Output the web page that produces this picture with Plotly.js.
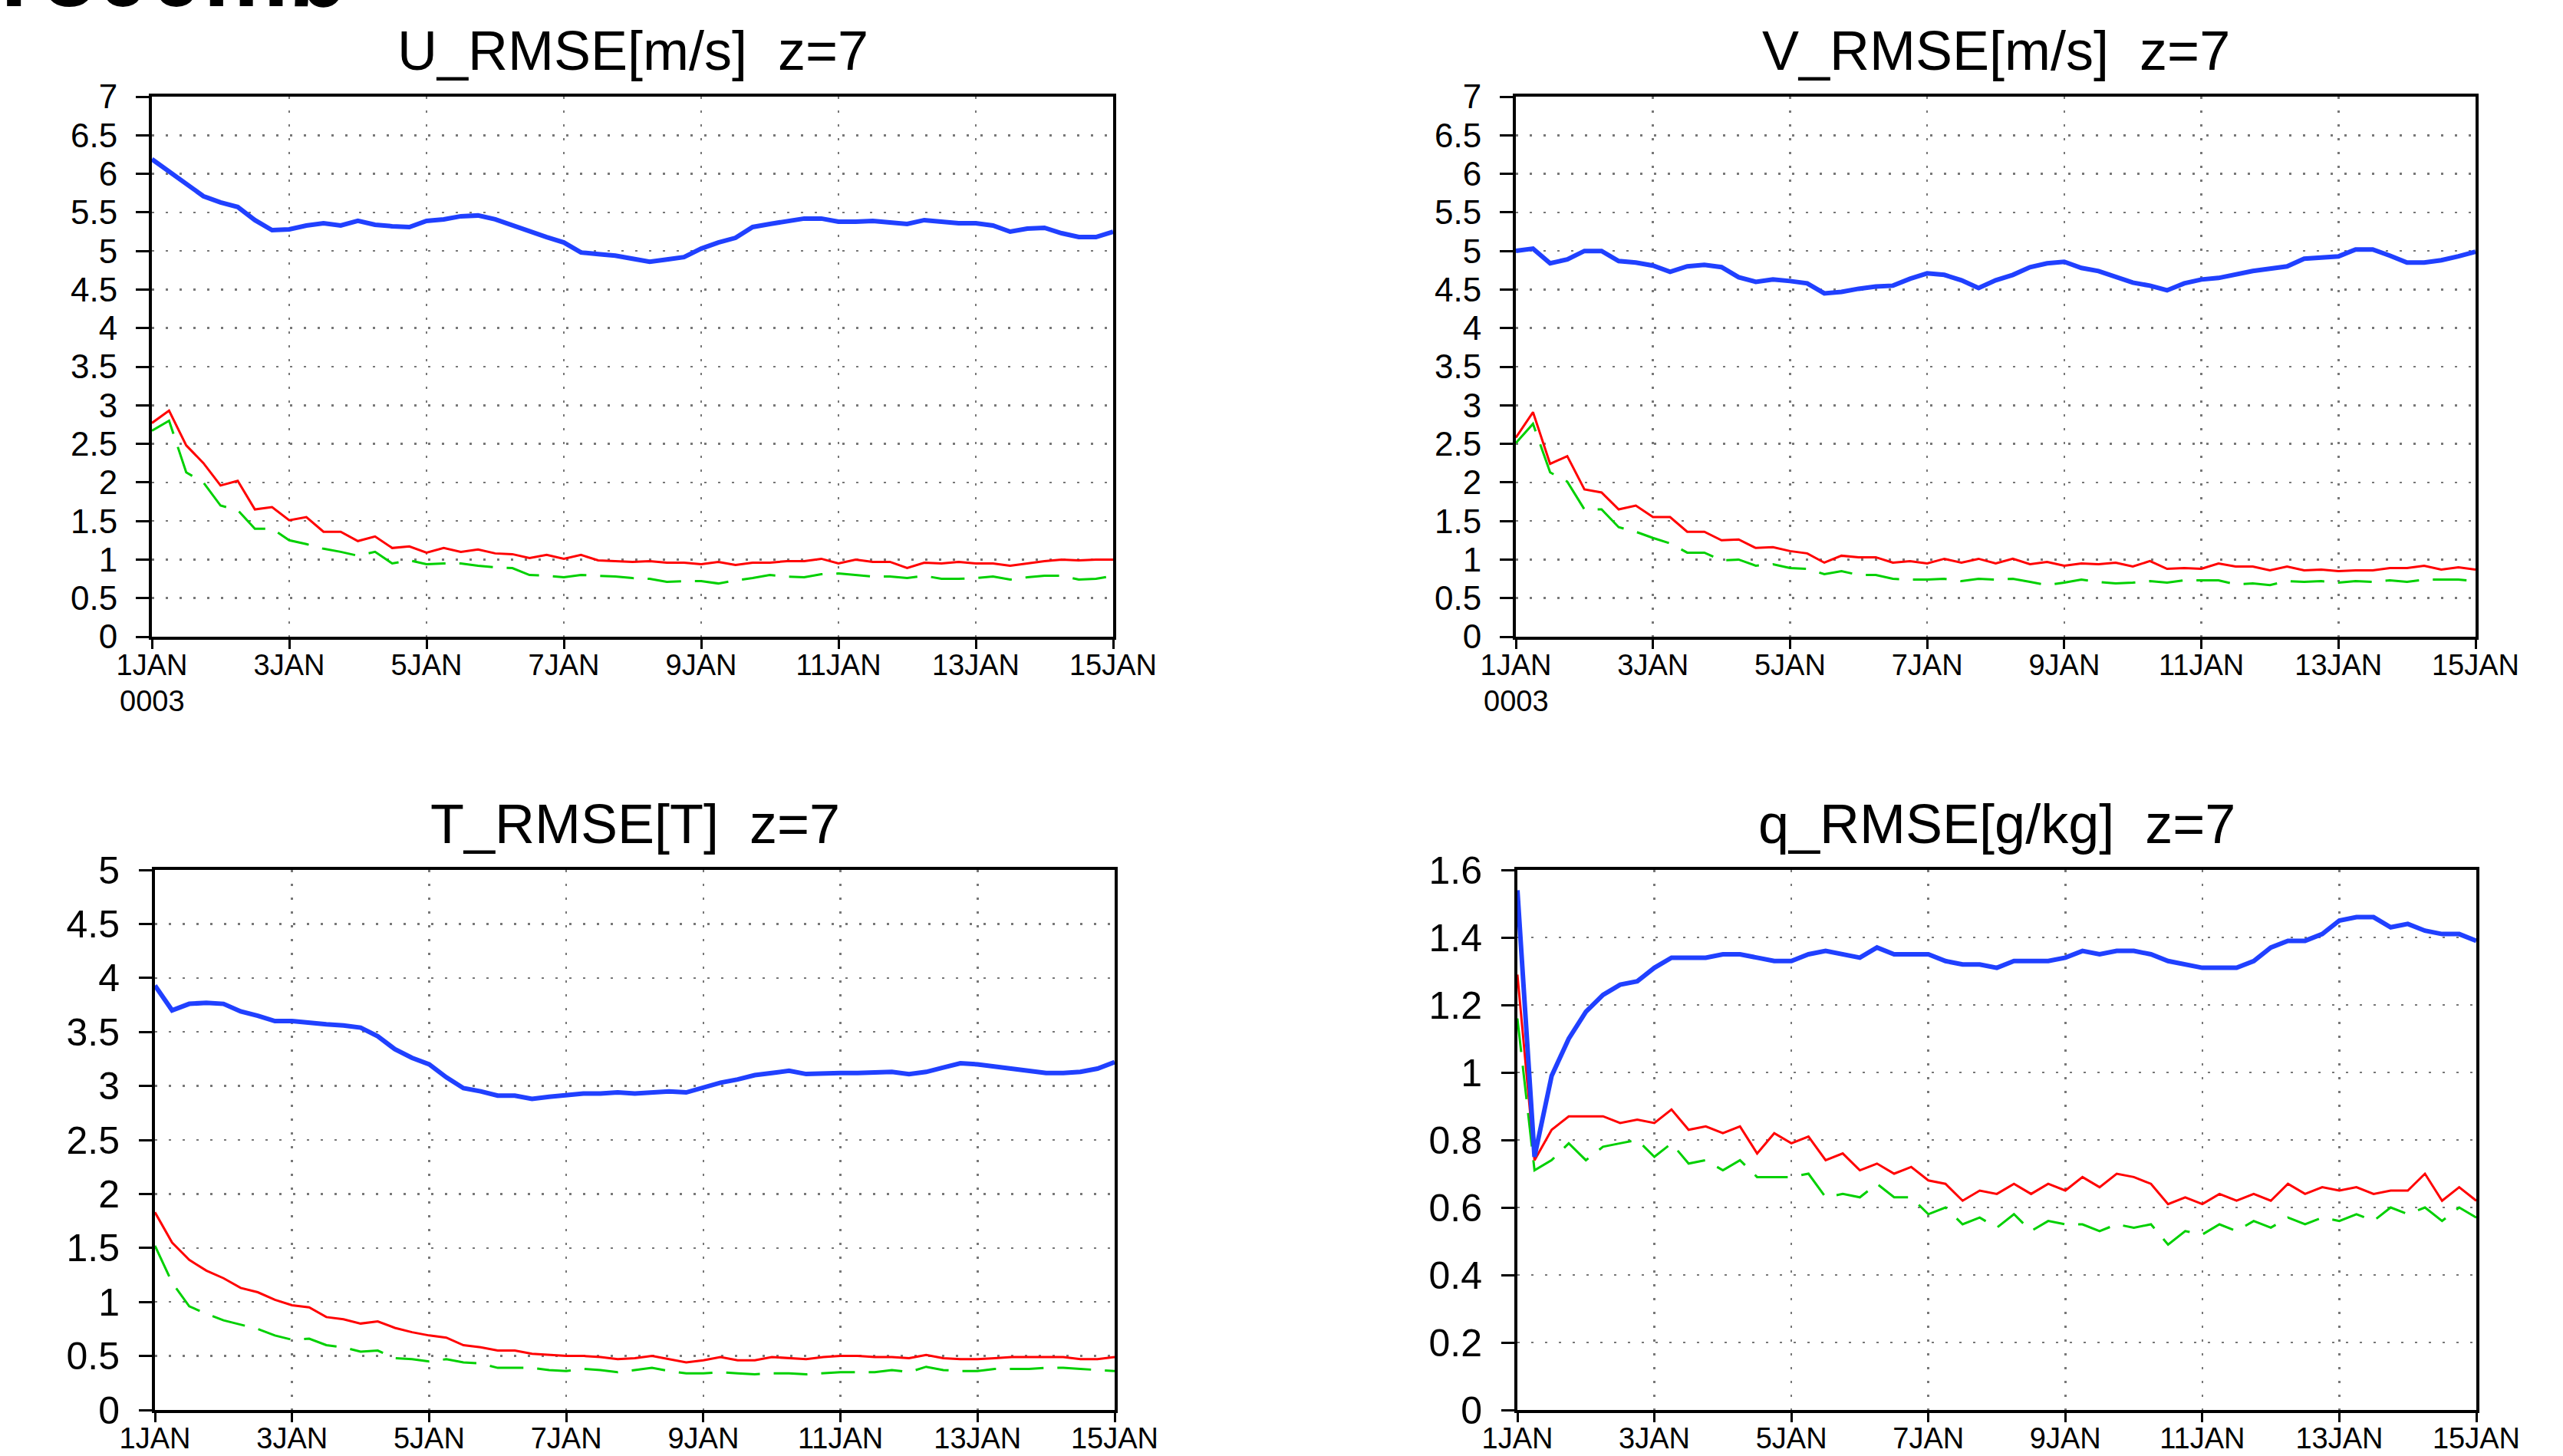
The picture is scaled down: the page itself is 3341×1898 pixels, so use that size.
<!DOCTYPE html>
<html>
<head>
<meta charset="utf-8">
<script src="https://cdn.plot.ly/plotly-3.0.1.min.js"></script>
<style>html,body{margin:0;padding:0;background:#fff;}#chart{width:3341px;height:1898px;}</style>
</head>
<body>
<div id="chart"></div>
<script>
// ---- data (6-hourly, 1JAN 00Z .. 15JAN 00Z, 57 values) ----
const U_blue = [6.19,6.03,5.87,5.71,5.63,5.57,5.40,5.27,5.28,5.33,5.36,5.33,5.39,5.34,5.32,5.31,5.39,5.41,5.45,5.46,5.41,5.33,5.26,5.18,5.11,4.98,4.96,4.94,4.90,4.86,4.89,4.92,5.03,5.11,5.17,5.31,5.35,5.38,5.42,5.42,5.38,5.38,5.39,5.37,5.35,5.40,5.38,5.36,5.36,5.33,5.25,5.29,5.30,5.23,5.18,5.18,5.25];
const U_red = [2.77,2.93,2.48,2.25,1.96,2.02,1.65,1.68,1.51,1.55,1.36,1.36,1.24,1.30,1.15,1.17,1.09,1.15,1.10,1.13,1.08,1.07,1.02,1.06,1.01,1.06,0.99,0.98,0.97,0.98,0.96,0.96,0.94,0.97,0.93,0.96,0.96,0.98,0.98,1.01,0.95,1.00,0.97,0.97,0.89,0.96,0.95,0.97,0.95,0.95,0.92,0.95,0.98,1.00,0.99,1.00,1.00];
const U_green = [2.67,2.80,2.13,2.00,1.70,1.64,1.40,1.40,1.25,1.20,1.14,1.10,1.05,1.10,0.95,0.99,0.94,0.95,0.95,0.92,0.90,0.89,0.80,0.79,0.77,0.80,0.79,0.78,0.76,0.75,0.71,0.72,0.72,0.69,0.73,0.76,0.80,0.78,0.77,0.81,0.82,0.80,0.78,0.78,0.76,0.79,0.75,0.75,0.76,0.78,0.74,0.77,0.79,0.79,0.74,0.75,0.79];

const V_blue = [5.00,5.03,4.84,4.89,5.00,5.00,4.87,4.85,4.81,4.73,4.80,4.82,4.79,4.66,4.60,4.63,4.61,4.58,4.45,4.47,4.51,4.54,4.55,4.64,4.71,4.69,4.62,4.52,4.62,4.69,4.79,4.84,4.86,4.78,4.74,4.66,4.59,4.55,4.49,4.58,4.63,4.65,4.70,4.74,4.77,4.80,4.90,4.92,4.93,5.02,5.02,4.94,4.85,4.85,4.88,4.93,4.99];
const V_red = [2.58,2.91,2.24,2.34,1.91,1.87,1.65,1.70,1.55,1.55,1.36,1.36,1.25,1.26,1.15,1.16,1.11,1.08,0.96,1.05,1.03,1.03,0.96,0.98,0.95,1.01,0.96,1.01,0.95,1.01,0.94,0.97,0.92,0.95,0.94,0.96,0.91,0.98,0.88,0.89,0.88,0.95,0.91,0.91,0.86,0.91,0.86,0.87,0.85,0.86,0.86,0.89,0.89,0.92,0.87,0.90,0.87];
const V_green = [2.51,2.76,2.13,2.01,1.65,1.65,1.42,1.36,1.28,1.21,1.09,1.09,0.99,1.00,0.92,0.94,0.89,0.88,0.81,0.85,0.80,0.80,0.75,0.74,0.74,0.75,0.72,0.75,0.74,0.75,0.71,0.67,0.70,0.74,0.71,0.69,0.70,0.72,0.70,0.73,0.73,0.73,0.68,0.69,0.67,0.72,0.71,0.72,0.70,0.72,0.71,0.73,0.71,0.74,0.74,0.74,0.72];

const T_blue = [3.93,3.70,3.76,3.77,3.76,3.69,3.65,3.60,3.60,3.58,3.57,3.56,3.54,3.46,3.34,3.26,3.20,3.08,2.98,2.95,2.91,2.91,2.88,2.90,2.92,2.93,2.93,2.94,2.93,2.94,2.95,2.94,2.99,3.03,3.06,3.10,3.12,3.14,3.11,3.12,3.12,3.12,3.12,3.13,3.11,3.13,3.17,3.21,3.20,3.18,3.17,3.14,3.12,3.12,3.13,3.16,3.22];
const T_red = [1.83,1.55,1.39,1.29,1.22,1.13,1.09,1.02,0.97,0.95,0.86,0.84,0.80,0.82,0.76,0.72,0.69,0.67,0.60,0.58,0.55,0.55,0.52,0.51,0.50,0.50,0.49,0.47,0.48,0.50,0.47,0.44,0.46,0.49,0.46,0.46,0.49,0.48,0.47,0.49,0.50,0.50,0.49,0.49,0.48,0.51,0.48,0.47,0.47,0.48,0.49,0.49,0.49,0.49,0.47,0.47,0.49];
const T_green = [1.52,1.18,0.96,0.89,0.83,0.79,0.75,0.69,0.65,0.66,0.60,0.58,0.54,0.55,0.48,0.47,0.45,0.47,0.44,0.43,0.39,0.39,0.39,0.37,0.36,0.38,0.37,0.35,0.37,0.39,0.36,0.34,0.34,0.35,0.34,0.33,0.34,0.34,0.33,0.34,0.35,0.35,0.35,0.37,0.35,0.40,0.37,0.36,0.36,0.38,0.38,0.38,0.39,0.39,0.38,0.37,0.36];

const q_blue = [1.54,0.75,0.99,1.10,1.18,1.23,1.26,1.27,1.31,1.34,1.34,1.34,1.35,1.35,1.34,1.33,1.33,1.35,1.36,1.35,1.34,1.37,1.35,1.35,1.35,1.33,1.32,1.32,1.31,1.33,1.33,1.33,1.34,1.36,1.35,1.36,1.36,1.35,1.33,1.32,1.31,1.31,1.31,1.33,1.37,1.39,1.39,1.41,1.45,1.46,1.46,1.43,1.44,1.42,1.41,1.41,1.39];
const q_red = [1.29,0.74,0.83,0.87,0.87,0.87,0.85,0.86,0.85,0.89,0.83,0.84,0.82,0.84,0.76,0.82,0.79,0.81,0.74,0.76,0.71,0.73,0.70,0.72,0.68,0.67,0.62,0.65,0.64,0.67,0.64,0.67,0.65,0.69,0.66,0.70,0.69,0.67,0.61,0.63,0.61,0.64,0.62,0.64,0.62,0.67,0.64,0.66,0.65,0.66,0.64,0.65,0.65,0.70,0.62,0.66,0.62];
const q_green = [1.16,0.71,0.74,0.79,0.74,0.78,0.79,0.80,0.75,0.79,0.73,0.74,0.71,0.74,0.69,0.69,0.69,0.70,0.63,0.64,0.63,0.67,0.63,0.63,0.58,0.60,0.55,0.57,0.54,0.58,0.53,0.56,0.55,0.55,0.53,0.55,0.54,0.55,0.49,0.53,0.52,0.55,0.53,0.56,0.54,0.57,0.55,0.57,0.56,0.58,0.56,0.60,0.58,0.60,0.56,0.60,0.57];

// ---- ticks / labels ----
const xTickVals = [0,2,4,6,8,10,12,14];
const xTickText = ["1JAN","3JAN","5JAN","7JAN","9JAN","11JAN","13JAN","15JAN"];
const yearLabel = "0003";
const windTicks = [0,0.5,1,1.5,2,2.5,3,3.5,4,4.5,5,5.5,6,6.5,7];
const windTickText = ["0","0.5","1","1.5","2","2.5","3","3.5","4","4.5","5","5.5","6","6.5","7"];
const tTicks = [0,0.5,1,1.5,2,2.5,3,3.5,4,4.5,5];
const tTickText = ["0","0.5","1","1.5","2","2.5","3","3.5","4","4.5","5"];
const qTicks = [0,0.2,0.4,0.6,0.8,1,1.2,1.4,1.6];
const qTickText = ["0","0.2","0.4","0.6","0.8","1","1.2","1.4","1.6"];
const panelTitles = ["U_RMSE[m/s]\u00a0\u00a0z=7","V_RMSE[m/s]\u00a0\u00a0z=7","T_RMSE[T]\u00a0\u00a0z=7","q_RMSE[g/kg]\u00a0\u00a0z=7"];
const headerText = "T500mb";

// time axis: days since 1JAN 00Z, 6-hourly steps
const STEP_DAYS = 0.25;
const days = U_blue.map((_, i) => i * STEP_DAYS);

// ---- geometry (pixels) ----
const W = 3341, H = 1898;
const FONT = "Liberation Sans, Arial, sans-serif";
const panels = [
  {x0:198, x1:1451, y0:126, y1:830, b:U_blue, r:U_red, g:U_green, yt:windTicks, ytt:windTickText, yr:[0,7], ys:44, year:true},
  {x0:1976, x1:3227, y0:126, y1:830, b:V_blue, r:V_red, g:V_green, yt:windTicks, ytt:windTickText, yr:[0,7], ys:44, year:true},
  {x0:202, x1:1453, y0:1134, y1:1838, b:T_blue, r:T_red, g:T_green, yt:tTicks, ytt:tTickText, yr:[0,5], ys:50, year:false},
  {x0:1978, x1:3228, y0:1134, y1:1838, b:q_blue, r:q_red, g:q_green, yt:qTicks, ytt:qTickText, yr:[0,1.6], ys:50, year:false}
];

const px = v => v / W;
const py = v => 1 - v / H;

const traces = [];
const layout = {
  width: W, height: H, autosize: false,
  margin: {l:0, r:0, t:0, b:0, pad:0},
  paper_bgcolor: "#ffffff", plot_bgcolor: "#ffffff",
  showlegend: false,
  font: {family: FONT, color: "#000"},
  annotations: []
};

const GRID = {showgrid:true, gridcolor:"#777777", gridwidth:2.5, griddash:"3px,15px"};

panels.forEach((p, k) => {
  const n = k + 1;
  const xa = "x" + (n === 1 ? "" : n);
  const ya = "y" + (n === 1 ? "" : n);
  const xkey = "xaxis" + (n === 1 ? "" : n);
  const ykey = "yaxis" + (n === 1 ? "" : n);

  traces.push({x: days, y: p.g, xaxis: xa, yaxis: ya, type: "scatter", mode: "lines",
    line: {color: "#00d000", width: 3, dash: "44px,18px"}, hoverinfo: "skip"});
  traces.push({x: days, y: p.r, xaxis: xa, yaxis: ya, type: "scatter", mode: "lines",
    line: {color: "#ff0000", width: 3}, hoverinfo: "skip"});
  traces.push({x: days, y: p.b, xaxis: xa, yaxis: ya, type: "scatter", mode: "lines",
    line: {color: "#2040ff", width: 6}, hoverinfo: "skip"});

  layout[xkey] = Object.assign({
    domain: [px(p.x0), px(p.x1)], anchor: ya, range: [0, 14],
    tickmode: "array", tickvals: xTickVals, ticktext: xTickText, tickangle: 0,
    ticks: "outside", ticklen: 12, tickwidth: 3, tickcolor: "#000", ticklabelstandoff: -12,
    showline: true, linewidth: 4, linecolor: "#000", mirror: true, zeroline: false,
    tickfont: {family: FONT, size: 38, color: "#000"}
  }, GRID);
  layout[ykey] = Object.assign({
    domain: [py(p.y1), py(p.y0)], anchor: xa, range: p.yr,
    tickmode: "array", tickvals: p.yt, ticktext: p.ytt,
    ticks: "outside", ticklen: 17, tickwidth: 3, tickcolor: "#000", ticklabelstandoff: 15,
    showline: true, linewidth: 4, linecolor: "#000", mirror: true, zeroline: false,
    tickfont: {family: FONT, size: p.ys, color: "#000"}
  }, GRID);

  // panel title
  layout.annotations.push({
    text: panelTitles[k], xref: "paper", yref: "paper",
    x: px((p.x0 + p.x1) / 2), y: py(p.y0 - 60), xanchor: "center", yanchor: "middle",
    showarrow: false, font: {family: FONT, size: 72, color: "#000"}
  });
  // year under first date label
  if (p.year) {
    layout.annotations.push({
      text: yearLabel, xref: xa, yref: "paper", x: 0, y: py(p.y1 + 84),
      xanchor: "center", yanchor: "middle", showarrow: false,
      font: {family: FONT, size: 38, color: "#000"}
    });
  }
});

// cropped header text at the very top-left
layout.annotations.push({
  text: "<b>" + headerText + "</b>", xref: "paper", yref: "paper",
  x: px(-22), y: py(-36), xanchor: "left", yanchor: "middle", showarrow: false,
  font: {family: FONT, size: 125, color: "#000"}
});

Plotly.newPlot("chart", traces, layout, {displayModeBar: false, staticPlot: true});
</script>
</body>
</html>
